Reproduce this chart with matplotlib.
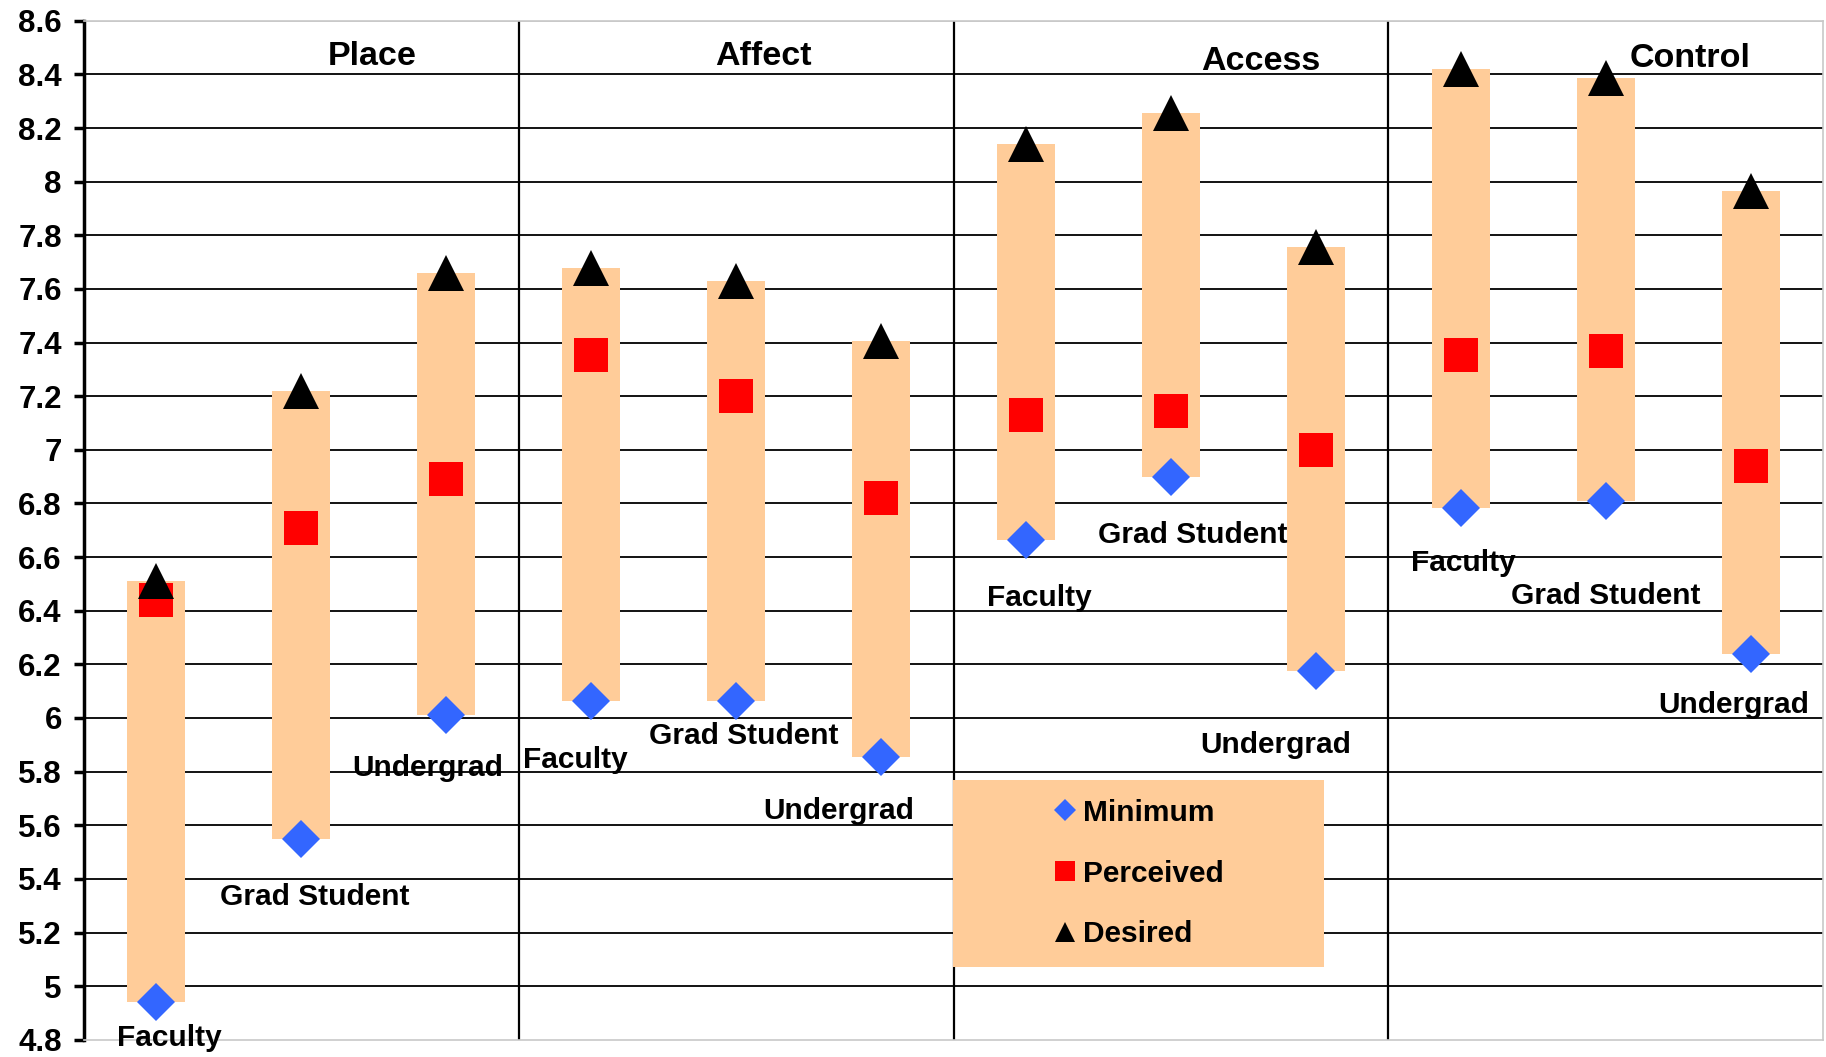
import matplotlib
matplotlib.use("Agg")
import matplotlib.pyplot as plt
from matplotlib.patches import Rectangle
from matplotlib.lines import Line2D
from matplotlib.ticker import FuncFormatter
import numpy as np

plt.rcParams['font.family'] = ['Liberation Sans', 'DejaVu Sans']
plt.rcParams['font.weight'] = 'bold'

# data
groups = ['Place', 'Affect', 'Access', 'Control']
categories = ['Faculty', 'Grad Student', 'Undergrad'] * 4
minimum = [4.94, 5.55, 6.01, 6.065, 6.065, 5.855, 6.665, 6.90, 6.177, 6.785, 6.81, 6.24]
perceived = [6.44, 6.71, 6.89, 7.355, 7.20, 6.82, 7.13, 7.145, 7.00, 7.355, 7.37, 6.94]
desired = [6.51, 7.22, 7.66, 7.68, 7.63, 7.405, 8.14, 8.255, 7.757, 8.42, 8.385, 7.965]

# label placement (offsets from each bar's minimum point)
label_dx = [0.09, 0.09, -0.13, -0.11, 0.05, -0.29, 0.09, 0.15, -0.28, 0.02, 0.0, -0.12]
label_dy = [-0.132, -0.217, -0.197, -0.222, -0.132, -0.202, -0.217, -0.219, -0.276, -0.208, -0.355, -0.192]
title_pos = [(1.49, 8.467), (4.19, 8.467), (7.62, 8.449), (10.58, 8.46)]

x = np.arange(len(categories))
bar_color = '#FFCC99'

fig = plt.figure(figsize=(18.26, 10.57), dpi=100)
ax = fig.add_axes([0.046, 0.0163, 0.9524, 0.964])

ax.set_xlim(-0.5, 11.5)
ax.set_ylim(4.8, 8.6)

# gridlines
for y in np.arange(5.0, 8.5, 0.2):
    ax.axhline(y, color='black', lw=1.3, zorder=1)
ax.axhline(8.6, color='#c8c8c8', lw=1.2, zorder=1)

# group separators
for b in [2.5, 5.5, 8.5]:
    ax.axvline(b, color='black', lw=1.6, zorder=1)

# bars from minimum to desired
heights = [d - m for d, m in zip(desired, minimum)]
ax.bar(x, heights, bottom=minimum, width=0.4, color=bar_color, zorder=2)

ax.plot(x, minimum, 'D', color='#3366FF', ms=19, mew=0, ls='none', zorder=4)
ax.plot(x, perceived, 's', color='#FF0000', ms=24, mew=0, ls='none', zorder=4)
ax.plot(x, desired, '^', color='black', ms=25.5, mew=0, ls='none', zorder=5)

for i, lab in enumerate(categories):
    ax.text(x[i] + label_dx[i], minimum[i] + label_dy[i], lab, ha='center', va='center',
            fontsize=21.5, fontweight='bold', zorder=6)

for g, (gx, gy) in zip(groups, title_pos):
    ax.text(gx, gy, g, ha='center', va='center', fontsize=24.5, fontweight='bold', zorder=6)

# legend background box
ax.add_patch(Rectangle((0.4995, 0.0714), 0.2135, 0.1834, transform=ax.transAxes,
                       facecolor=bar_color, edgecolor='none', zorder=7))
handles = [Line2D([], [], marker='D', color='#3366FF', ls='none', ms=11, mew=0),
           Line2D([], [], marker='s', color='#FF0000', ls='none', ms=14, mew=0),
           Line2D([], [], marker='^', color='black', ls='none', ms=15, mew=0)]
leg = ax.legend(handles, ['Minimum', 'Perceived', 'Desired'], loc='center',
                bbox_to_anchor=(0.4995 + 0.2135 / 2, 0.0714 + 0.1834 / 2),
                frameon=False, prop={'size': 21.5, 'weight': 'bold'},
                handlelength=0.8, handletextpad=0.2, labelspacing=1.1)
leg.set_zorder(8)

# axes styling
ax.set_xticks([])
ax.set_yticks(np.round(np.arange(4.8, 8.61, 0.2), 1))
ax.yaxis.set_major_formatter(FuncFormatter(lambda v, p: '%g' % v))
ax.tick_params(axis='y', direction='out', length=7, width=2.5, pad=9, labelsize=22.5)
for t in ax.get_yticklabels():
    t.set_fontweight('bold')
ax.spines['left'].set_linewidth(2.5)
for s in ['top', 'right', 'bottom']:
    ax.spines[s].set_color('#c8c8c8')
    ax.spines[s].set_linewidth(1.2)

plt.savefig('out.png', dpi=100)
plt.close()
